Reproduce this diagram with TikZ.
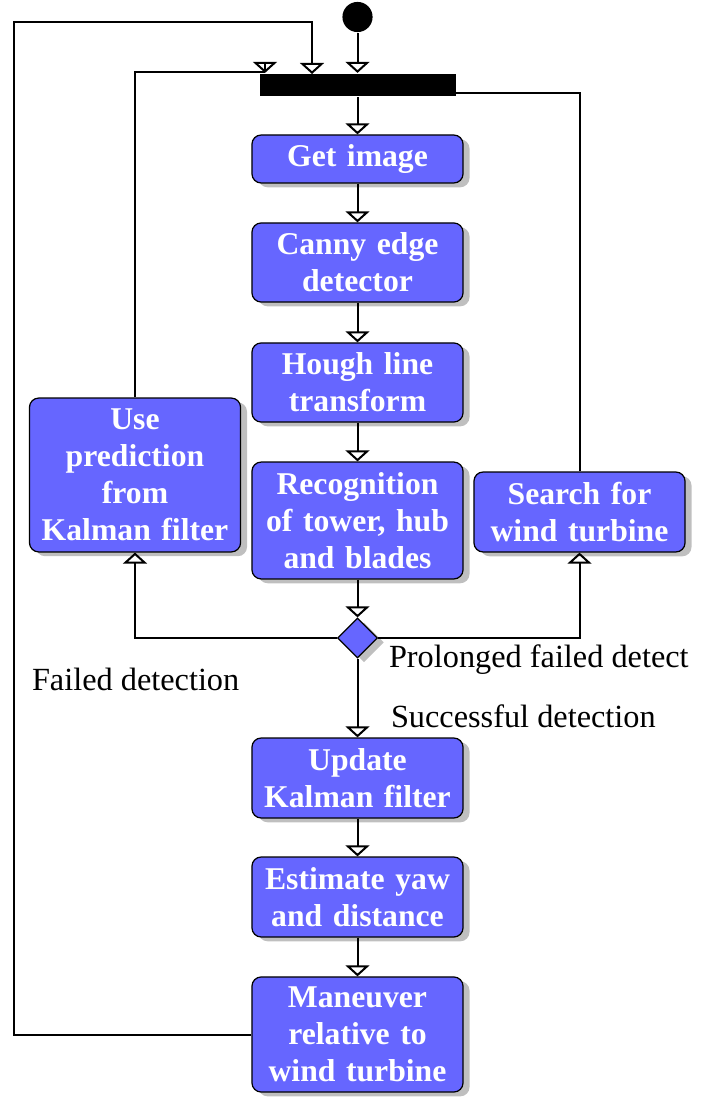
\documentclass[tikz,border=0pt]{standalone}
\usepackage{fontspec}
\setmainfont{Liberation Serif}
\usetikzlibrary{arrows.meta,shapes.geometric,shadows}

\tikzset{
	block/.style={rectangle,rounded corners=3pt,draw=black,line width=0.4pt,fill=blue!60,text=white,
		font=\fontsize{10.3}{12}\selectfont\bfseries,
		text width=64pt,align=center,inner sep=1.5pt,minimum width=68.6pt,
		drop shadow={shadow xshift=2.1pt,shadow yshift=-1.4pt}},
	decision/.style={diamond,draw=black,line width=0.4pt,fill=blue!60,minimum size=13pt,inner sep=0pt,
		drop shadow={shadow xshift=2.1pt,shadow yshift=-1.4pt}},
	startnode/.style={circle,fill=black,minimum size=9.8pt,inner sep=0pt},
	forkbar/.style={rectangle,fill=black,minimum width=63.7pt,minimum height=7.2pt,inner sep=0pt},
	lbl/.style={inner sep=0pt,anchor=west,font=\fontsize{10.5}{12}\selectfont}
}

\begin{document}
\begin{tikzpicture}[>={Triangle[open,width=7.8pt,length=3.6pt]},x=0.325pt,y=-0.325pt,line width=0.65pt]
	\useasboundingbox (0,0) rectangle (722,1098);
	% start and fork
	\node[startnode] (start) at (357.5,17) {};
	\node[forkbar] (bar) at (357.5,85) {};
	% main column
	\node[block,minimum height=15.6pt] (get) at (357.5,159) {Get image};
	\node[block,minimum height=25.7pt] (canny) at (357.5,262.5) {Canny edge\\detector};
	\node[block,minimum height=25.7pt] (hough) at (357.5,382.5) {Hough line\\transform};
	\node[block,minimum height=38pt] (recog) at (357.5,520.5) {Recognition\\of tower, hub\\and blades};
	\node[decision] (dec) at (357.5,638) {};
	\node[block,minimum height=26pt] (update) at (357.5,778) {Update\\Kalman filter};
	\node[block,minimum height=26pt] (estim) at (357.5,897) {Estimate yaw\\and distance};
	\node[block,minimum height=37.4pt] (maneuv) at (357.5,1034.5) {Maneuver\\relative to\\wind turbine};
	% side branches
	\node[block,minimum height=50pt] (predict) at (135,475) {Use\\prediction\\from\\Kalman filter};
	\node[block,minimum height=26pt] (search) at (579.5,512) {Search for\\wind turbine};
	% labels
	\node[lbl] (lfail) at (31,679) {Failed detection};
	\node[lbl] (lprol) at (388,660) {Prolonged failed detect};
	\node[lbl] (lsucc) at (390,716) {Successful detection};
	% entry points on the bar
	\coordinate (in1) at (265,72.5);
	\coordinate (in2) at (312,74);
	\coordinate (out1) at (455,93);
	\coordinate (loop) at (14,22);
	% main flow
	\draw[->] (start) -- (bar.north);
	\draw[->] (bar.south) -- (get.north);
	\draw[->] (get) -- (canny);
	\draw[->] (canny) -- (hough);
	\draw[->] (hough) -- (recog);
	\draw[->] (recog) -- (dec);
	\draw[->] (dec) -- (update);
	\draw[->] (update) -- (estim);
	\draw[->] (estim) -- (maneuv);
	% branches from the decision
	\draw[->] (dec.west) -| (predict.south);
	\draw[->] (dec.east) -| (search.south);
	% back to the fork
	\draw (predict.north) |- (in1);
	\draw[->] (in1) -- (in1 |- bar.north);
	\draw (search.north) |- (out1);
	\draw[->] (maneuv.west) -| (loop) -| (in2);
\end{tikzpicture}
\end{document}
